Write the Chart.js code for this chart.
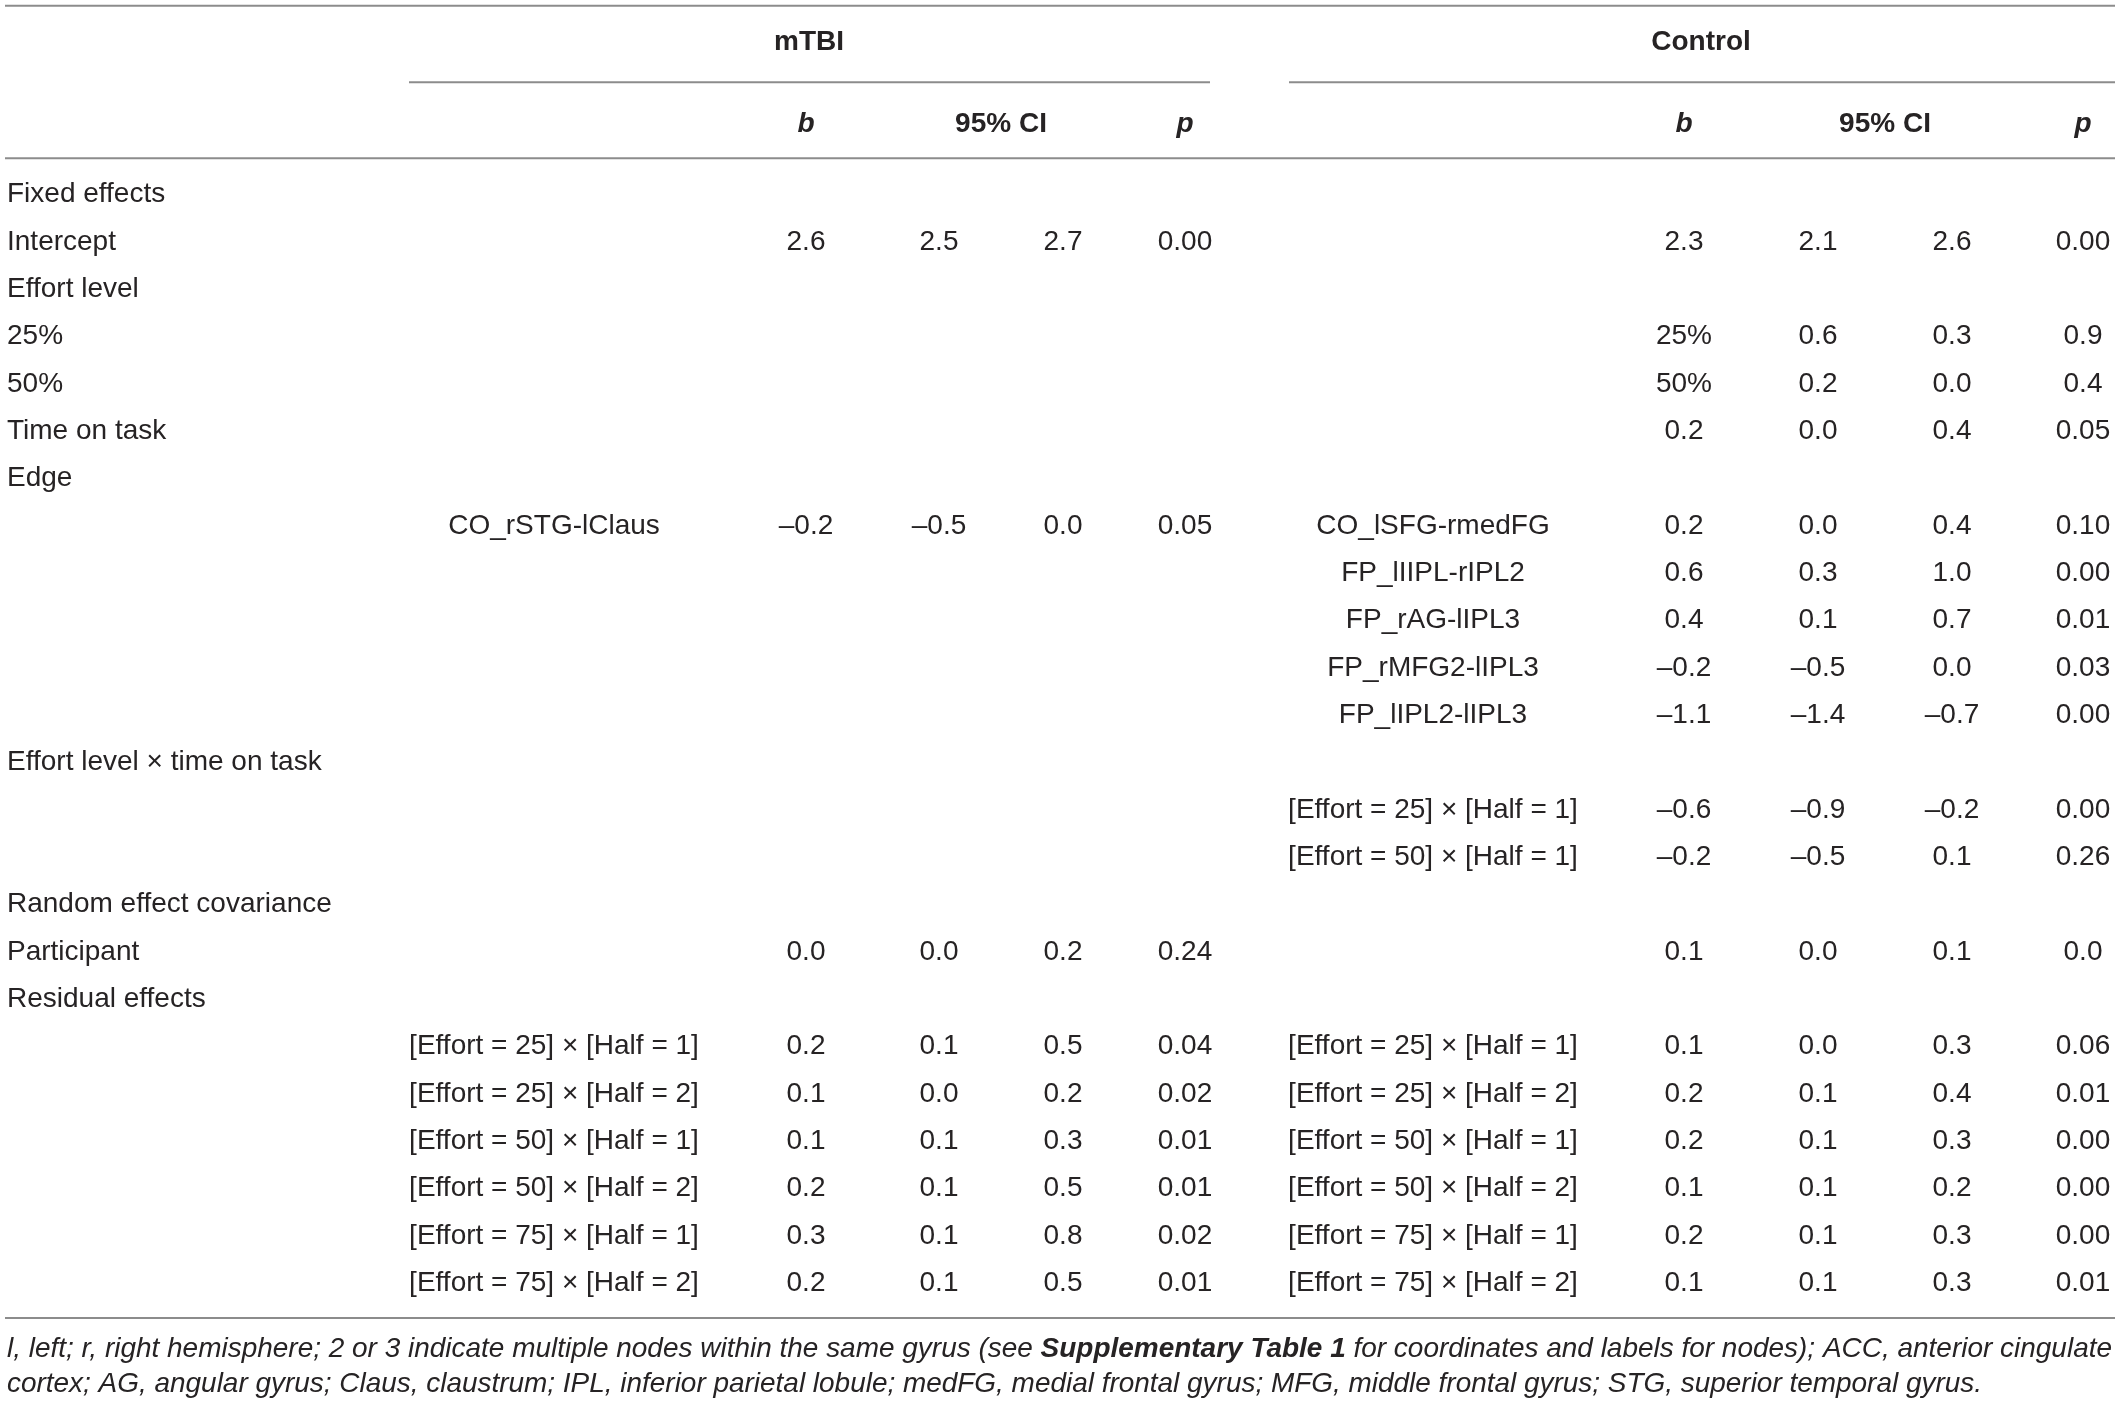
<!DOCTYPE html>
<html>
<head>
<meta charset="utf-8">
<script src="https://cdn.jsdelivr.net/npm/chart.js@4.4.0/dist/chart.umd.min.js"></script>
<style>
  html, body { margin: 0; padding: 0; background: #fff; }
  #wrap { width: 2118px; height: 1404px; }
</style>
</head>
<body>
<div id="wrap"><canvas id="tableChart" width="2118" height="1404"></canvas></div>
<script>
// Table content, one array per column (24 body rows, '' = empty cell)
const rowLabels = [
  'Fixed effects', 'Intercept', 'Effort level', '25%', '50%', 'Time on task', 'Edge',
  '', '', '', '', '',
  'Effort level \u00d7 time on task', '', '',
  'Random effect covariance', 'Participant', 'Residual effects',
  '', '', '', '', '', ''
];

const residualTerms = [
  '[Effort = 25] \u00d7 [Half = 1]', '[Effort = 25] \u00d7 [Half = 2]',
  '[Effort = 50] \u00d7 [Half = 1]', '[Effort = 50] \u00d7 [Half = 2]',
  '[Effort = 75] \u00d7 [Half = 1]', '[Effort = 75] \u00d7 [Half = 2]'
];

const mtbiTerms = ['', '', '', '', '', '', '', 'CO_rSTG-lClaus', '', '', '', '', '', '', '', '', '', '', ...residualTerms];
const mtbiB     = ['', '2.6', '', '', '', '', '', '\u20130.2', '', '', '', '', '', '', '', '', '0.0', '', '0.2', '0.1', '0.1', '0.2', '0.3', '0.2'];
const mtbiLow   = ['', '2.5', '', '', '', '', '', '\u20130.5', '', '', '', '', '', '', '', '', '0.0', '', '0.1', '0.0', '0.1', '0.1', '0.1', '0.1'];
const mtbiHigh  = ['', '2.7', '', '', '', '', '', '0.0', '', '', '', '', '', '', '', '', '0.2', '', '0.5', '0.2', '0.3', '0.5', '0.8', '0.5'];
const mtbiP     = ['', '0.00', '', '', '', '', '', '0.05', '', '', '', '', '', '', '', '', '0.24', '', '0.04', '0.02', '0.01', '0.01', '0.02', '0.01'];

const ctrlTerms = ['', '', '', '', '', '', '', 'CO_lSFG-rmedFG', 'FP_lIIPL-rIPL2', 'FP_rAG-lIPL3', 'FP_rMFG2-lIPL3', 'FP_lIPL2-lIPL3', '',
  '[Effort = 25] \u00d7 [Half = 1]', '[Effort = 50] \u00d7 [Half = 1]', '', '', '', ...residualTerms];
const ctrlB     = ['', '2.3', '', '25%', '50%', '0.2', '', '0.2', '0.6', '0.4', '\u20130.2', '\u20131.1', '', '\u20130.6', '\u20130.2', '', '0.1', '', '0.1', '0.2', '0.2', '0.1', '0.2', '0.1'];
const ctrlLow   = ['', '2.1', '', '0.6', '0.2', '0.0', '', '0.0', '0.3', '0.1', '\u20130.5', '\u20131.4', '', '\u20130.9', '\u20130.5', '', '0.0', '', '0.0', '0.1', '0.1', '0.1', '0.1', '0.1'];
const ctrlHigh  = ['', '2.6', '', '0.3', '0.0', '0.4', '', '0.4', '1.0', '0.7', '0.0', '\u20130.7', '', '\u20130.2', '0.1', '', '0.1', '', '0.3', '0.4', '0.3', '0.2', '0.3', '0.3'];
const ctrlP     = ['', '0.00', '', '0.9', '0.4', '0.05', '', '0.10', '0.00', '0.01', '0.03', '0.00', '', '0.00', '0.26', '', '0.0', '', '0.06', '0.01', '0.00', '0.00', '0.00', '0.01'];

const groupNames = ['mTBI', 'Control'];
const statHeads = ['b', '95% CI', 'p'];

const footLine1 = ['l, left; r, right hemisphere; 2 or 3 indicate multiple nodes within the same gyrus (see ',
  'Supplementary Table 1', ' for coordinates and labels for nodes); ACC, anterior cingulate'];
const footLine2 = 'cortex; AG, angular gyrus; Claus, claustrum; IPL, inferior parietal lobule; medFG, medial frontal gyrus; MFG, middle frontal gyrus; STG, superior temporal gyrus.';

// Layout (pixel x positions, y in row units)
const W = 2118, H = 1404;
const rowTop = 194.6, rowStep = 47.33;
const colX = { label: 7, mTerm: 554, mB: 806, mLo: 939, mHi: 1063, mP: 1185,
               cTerm: 1433, cB: 1684, cLo: 1818, cHi: 1952, cP: 2083 };
const yPos = { topRule: -3.99, groupHead: -3.22, groupRule: -2.373, statHead: -1.492,
               headRule: -0.767, bottomRule: 23.737, foot1: 24.39, foot2: 25.13 };
const FONT = '"Liberation Sans", Arial, Helvetica, sans-serif';
const INK = '#262324';
const RULE = '#8c8c8c';

const columns = [
  { key: 'label', texts: rowLabels, align: 'left' },
  { key: 'mTerm', texts: mtbiTerms, align: 'center' },
  { key: 'mB', texts: mtbiB, align: 'center' },
  { key: 'mLo', texts: mtbiLow, align: 'center' },
  { key: 'mHi', texts: mtbiHigh, align: 'center' },
  { key: 'mP', texts: mtbiP, align: 'center' },
  { key: 'cTerm', texts: ctrlTerms, align: 'center' },
  { key: 'cB', texts: ctrlB, align: 'center' },
  { key: 'cLo', texts: ctrlLow, align: 'center' },
  { key: 'cHi', texts: ctrlHigh, align: 'center' },
  { key: 'cP', texts: ctrlP, align: 'center' }
];

const datasets = columns.map(col => {
  const data = [], texts = [];
  col.texts.forEach((t, i) => {
    if (t !== '') { data.push({ x: colX[col.key], y: i }); texts.push(t); }
  });
  return { label: col.key, data, texts, align: col.align, pointRadius: 0, pointHoverRadius: 0, showLine: false };
});

// draws each cell's text at its point position
const cellText = {
  id: 'cellText',
  afterDatasetsDraw(chart) {
    const ctx = chart.ctx;
    ctx.save();
    ctx.fillStyle = INK;
    ctx.font = '28px ' + FONT;
    ctx.textBaseline = 'middle';
    chart.data.datasets.forEach((ds, i) => {
      ctx.textAlign = ds.align;
      chart.getDatasetMeta(i).data.forEach((pt, j) => {
        ctx.fillText(ds.texts[j], pt.x, pt.y);
      });
    });
    ctx.restore();
  }
};

// header, rules and footnote
const tableFrame = {
  id: 'tableFrame',
  afterDraw(chart) {
    const ctx = chart.ctx;
    const xs = chart.scales.x, ys = chart.scales.y;
    const px = v => xs.getPixelForValue(v);
    const py = v => ys.getPixelForValue(v);
    ctx.save();
    ctx.strokeStyle = RULE;
    ctx.lineWidth = 2;
    const rule = (x1, x2, y) => {
      ctx.beginPath(); ctx.moveTo(px(x1), py(y)); ctx.lineTo(px(x2), py(y)); ctx.stroke();
    };
    rule(5, 2115, yPos.topRule);
    rule(409, 1210, yPos.groupRule);
    rule(1289, 2115, yPos.groupRule);
    rule(5, 2115, yPos.headRule);
    rule(5, 2115, yPos.bottomRule);

    ctx.fillStyle = INK;
    ctx.textBaseline = 'middle';
    ctx.textAlign = 'center';
    ctx.font = 'bold 28px ' + FONT;
    ctx.fillText(groupNames[0], px(809), py(yPos.groupHead));
    ctx.fillText(groupNames[1], px(1701), py(yPos.groupHead));

    const heads = [[colX.mB, colX.mLo, colX.mHi, colX.mP], [colX.cB, colX.cLo, colX.cHi, colX.cP]];
    heads.forEach(h => {
      ctx.font = 'italic bold 28px ' + FONT;
      ctx.fillText(statHeads[0], px(h[0]), py(yPos.statHead));
      ctx.fillText(statHeads[2], px(h[3]), py(yPos.statHead));
      ctx.font = 'bold 28px ' + FONT;
      ctx.fillText(statHeads[1], px((h[1] + h[2]) / 2), py(yPos.statHead));
    });

    // footnote: italic, sized so line 2 ends where it does in the source; line 1 fitted to full width
    ctx.textAlign = 'left';
    const x0 = px(7);
    ctx.font = 'italic 27px ' + FONT;
    const fs = (27 * (px(1982) - x0) / ctx.measureText(footLine2).width).toFixed(2);
    const reg = 'italic ' + fs + 'px ' + FONT;
    const bld = 'italic bold ' + fs + 'px ' + FONT;
    let natural = 0;
    footLine1.forEach((seg, si) => {
      ctx.font = si === 1 ? bld : reg;
      natural += ctx.measureText(seg).width;
    });
    const f1 = (px(2112) - x0) / natural;
    ctx.save();
    ctx.translate(x0, py(yPos.foot1));
    ctx.scale(f1, 1);
    let x = 0;
    footLine1.forEach((seg, si) => {
      ctx.font = si === 1 ? bld : reg;
      ctx.fillText(seg, x, 0);
      x += ctx.measureText(seg).width;
    });
    ctx.restore();
    ctx.font = reg;
    ctx.fillText(footLine2, x0, py(yPos.foot2));
    ctx.restore();
  }
};

const ctx = document.getElementById('tableChart').getContext('2d');
new Chart(ctx, {
  type: 'scatter',
  data: { datasets },
  options: {
    responsive: false,
    animation: false,
    events: [],
    layout: { padding: 0 },
    plugins: { legend: { display: false }, tooltip: { enabled: false } },
    scales: {
      x: { type: 'linear', min: 0, max: W, display: false },
      y: { type: 'linear', min: -rowTop / rowStep, max: (H - rowTop) / rowStep, reverse: true, display: false }
    }
  },
  plugins: [cellText, tableFrame]
});
</script>
</body>
</html>
